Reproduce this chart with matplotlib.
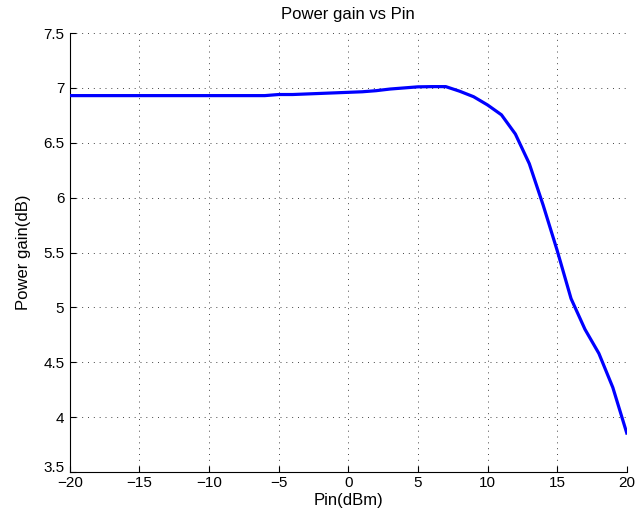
import matplotlib
matplotlib.use("Agg")
import matplotlib.pyplot as plt
import matplotlib.transforms as mtransforms

# Input power (dBm) and measured power gain (dB)
pin_dbm = list(range(-20, 21))
gain_db = [6.93, 6.93, 6.93, 6.93, 6.93, 6.93, 6.93, 6.93, 6.93, 6.93,
           6.93, 6.93, 6.93, 6.93, 6.93, 6.94, 6.94, 6.945, 6.95, 6.955,
           6.96, 6.965, 6.975, 6.99, 7.00, 7.01, 7.012, 7.012, 6.97, 6.92,
           6.845, 6.755, 6.58, 6.31, 5.93, 5.52, 5.08, 4.80, 4.58, 4.27,
           3.855]

x_ticks = [-20, -15, -10, -5, 0, 5, 10, 15, 20]
y_ticks = [3.5, 4, 4.5, 5, 5.5, 6, 6.5, 7, 7.5]
y_ticklabels = ["3.5", "4", "4.5", "5", "5.5", "6", "6.5", "7", "7.5"]

plt.rcParams["font.family"] = ["Liberation Sans", "DejaVu Sans"]

fig = plt.figure(figsize=(6.35, 5.25), dpi=100)
ax = fig.add_axes([0.110, 0.101, 0.877, 0.836])

ax.plot(pin_dbm, gain_db, color="#0000ff", linewidth=2.3, zorder=3)

ax.set_xlim(-20, 20)
ax.set_ylim(3.5, 7.5)
ax.set_xticks(x_ticks)
ax.set_yticks(y_ticks)
ax.set_yticklabels(y_ticklabels)

ax.grid(True, color="#444444", linestyle=(0, (1, 5)), linewidth=0.7)
ax.spines["top"].set_visible(False)
ax.spines["right"].set_visible(False)
ax.spines["left"].set_linewidth(0.8)
ax.spines["bottom"].set_linewidth(0.8)
ax.tick_params(direction="in", length=4, width=0.8, labelsize=11)
ax.tick_params(axis="x", pad=3)
ax.tick_params(axis="y", pad=4)

# lowest y label sits a little above the corner, as in the original
lbl = ax.get_yticklabels()[0]
lbl.set_transform(lbl.get_transform()
                  + mtransforms.ScaledTranslation(0, 4 / 72, fig.dpi_scale_trans))

ax.set_xlabel("Pin(dBm)", fontsize=12, labelpad=2)
ax.set_ylabel("Power gain(dB)", fontsize=12, labelpad=9)
ax.set_title("Power gain vs Pin", fontsize=12, pad=10)

fig.savefig("out.png", dpi=100)
plt.close(fig)
